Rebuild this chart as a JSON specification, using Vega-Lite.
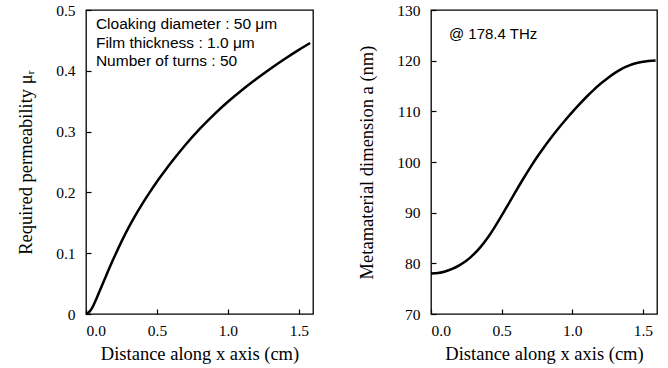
{
  "$schema": "https://vega.github.io/schema/vega-lite/v6.json",
  "padding": {"left": 15, "top": 2, "right": 8, "bottom": 2},
  "spacing": 41,
  "config": {
    "view": {"stroke": "black", "strokeWidth": 1.3},
    "axis": {
      "grid": false,
      "domain": false,
      "tickColor": "black",
      "tickSize": -5,
      "tickWidth": 1.2,
      "labelFont": "Liberation Serif",
      "labelFontSize": 15.5,
      "labelColor": "black",
      "titleFont": "Liberation Serif",
      "titleFontSize": 18.5,
      "titleFontWeight": "normal",
      "titleColor": "black"
    },
    "axisX": {"labelPadding": 14, "titlePadding": 6},
    "axisY": {"labelPadding": 16, "titlePadding": 20}
  },
  "datasets": {
    "mu": [
      {"x": 0, "mu": 0},
      {"x": 0.025, "mu": 0.004},
      {"x": 0.05, "mu": 0.013},
      {"x": 0.075, "mu": 0.026},
      {"x": 0.1, "mu": 0.04},
      {"x": 0.15, "mu": 0.0675},
      {"x": 0.2, "mu": 0.094},
      {"x": 0.25, "mu": 0.119},
      {"x": 0.3, "mu": 0.142},
      {"x": 0.35, "mu": 0.163},
      {"x": 0.4, "mu": 0.1825},
      {"x": 0.45, "mu": 0.2005},
      {"x": 0.5, "mu": 0.2175},
      {"x": 0.55, "mu": 0.2335},
      {"x": 0.6, "mu": 0.249},
      {"x": 0.7, "mu": 0.278},
      {"x": 0.8, "mu": 0.304},
      {"x": 0.9, "mu": 0.3275},
      {"x": 1.0, "mu": 0.349},
      {"x": 1.1, "mu": 0.3685},
      {"x": 1.2, "mu": 0.3865},
      {"x": 1.3, "mu": 0.4035},
      {"x": 1.4, "mu": 0.4195},
      {"x": 1.5, "mu": 0.4345},
      {"x": 1.58, "mu": 0.4457}
    ],
    "dim": [
      {"x": 0, "a": 78.0},
      {"x": 0.05, "a": 78.1},
      {"x": 0.1, "a": 78.4},
      {"x": 0.15, "a": 78.9},
      {"x": 0.2, "a": 79.6},
      {"x": 0.25, "a": 80.5},
      {"x": 0.3, "a": 81.7},
      {"x": 0.35, "a": 83.2},
      {"x": 0.4, "a": 85.0},
      {"x": 0.45, "a": 87.1},
      {"x": 0.5, "a": 89.4},
      {"x": 0.55, "a": 91.8},
      {"x": 0.6, "a": 94.2},
      {"x": 0.65, "a": 96.55},
      {"x": 0.7, "a": 98.8},
      {"x": 0.75, "a": 100.93},
      {"x": 0.8, "a": 102.93},
      {"x": 0.85, "a": 104.8},
      {"x": 0.9, "a": 106.58},
      {"x": 0.95, "a": 108.25},
      {"x": 1.0, "a": 109.85},
      {"x": 1.05, "a": 111.38},
      {"x": 1.1, "a": 112.83},
      {"x": 1.15, "a": 114.18},
      {"x": 1.2, "a": 115.43},
      {"x": 1.25, "a": 116.55},
      {"x": 1.3, "a": 117.55},
      {"x": 1.35, "a": 118.38},
      {"x": 1.4, "a": 119.02},
      {"x": 1.45, "a": 119.5},
      {"x": 1.5, "a": 119.8},
      {"x": 1.59, "a": 120.05}
    ]
  },
  "hconcat": [
    {
      "width": 227,
      "height": 304,
      "layer": [
        {
          "data": {"name": "mu"},
          "mark": {"type": "line", "color": "black", "strokeWidth": 2.5, "interpolate": "monotone"},
          "encoding": {
            "x": {"field": "x", "type": "quantitative", "scale": {"domain": [0, 1.6], "nice": false},
                  "axis": {"values": [0, 0.5, 1.0, 1.5], "format": ".1f", "title": "Distance along x axis (cm)"}},
            "y": {"field": "mu", "type": "quantitative", "scale": {"domain": [0, 0.5], "nice": false},
                  "axis": {"values": [0, 0.1, 0.2, 0.3, 0.4, 0.5], "labelExpr": "datum.value == 0 ? '0' : format(datum.value, '.1f')", "title": "Required permeability  μᵣ"}}
          }
        },
        {
          "data": {"values": [{}]},
          "mark": {"type": "text", "align": "left", "baseline": "top", "font": "Liberation Sans", "fontSize": 15.5, "lineHeight": 18.5, "color": "black"},
          "encoding": {
            "x": {"datum": 0.07},
            "y": {"datum": 0.488},
            "text": {"value": ["Cloaking diameter : 50 μm", "Film thickness : 1.0 μm", "Number of turns : 50"]}
          }
        }
      ]
    },
    {
      "width": 226,
      "height": 304,
      "layer": [
        {
          "data": {"name": "dim"},
          "mark": {"type": "line", "color": "black", "strokeWidth": 2.5, "interpolate": "monotone"},
          "encoding": {
            "x": {"field": "x", "type": "quantitative", "scale": {"domain": [0, 1.6], "nice": false},
                  "axis": {"values": [0, 0.5, 1.0, 1.5], "format": ".1f", "title": "Distance along x axis (cm)"}},
            "y": {"field": "a", "type": "quantitative", "scale": {"domain": [70, 130], "nice": false, "zero": false},
                  "axis": {"values": [70, 80, 90, 100, 110, 120, 130], "format": "d", "title": "Metamaterial dimension a (nm)"}}
          }
        },
        {
          "data": {"values": [{}]},
          "mark": {"type": "text", "align": "left", "baseline": "middle", "font": "Liberation Sans", "fontSize": 15, "color": "black"},
          "encoding": {
            "x": {"datum": 0.127},
            "y": {"datum": 125.2},
            "text": {"value": "@ 178.4 THz"}
          }
        }
      ]
    }
  ]
}
